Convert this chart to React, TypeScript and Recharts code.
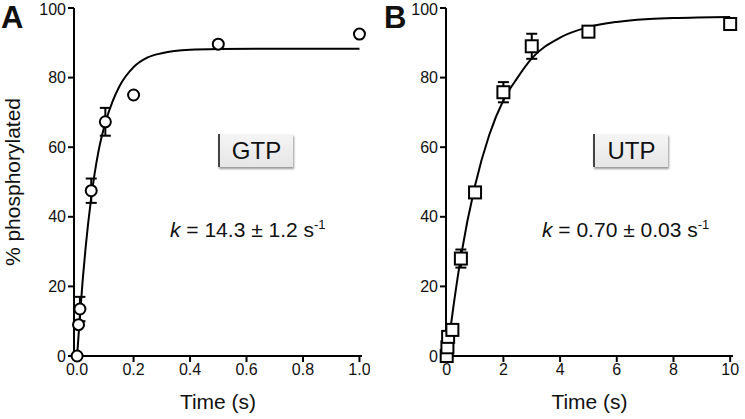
import { ComposedChart, Line, Scatter, ErrorBar, XAxis, YAxis } from "recharts";

// Panel A (GTP): measured points
const gtpTime = [0, 0.005, 0.01, 0.05, 0.1, 0.2, 0.5, 1.0];
const gtpPct = [0, 9, 13.5, 47.5, 67.3, 75, 89.6, 92.5];
// points carrying error bars
const gtpErrTime = [0.01, 0.05, 0.1];
const gtpErrPct = [13.5, 47.5, 67.3];
const gtpErrSize = [3.5, 3.5, 4];
// fitted curve
const gtpFitTime = [0, 0.01, 0.02, 0.03, 0.05, 0.075, 0.1, 0.125, 0.15, 0.2, 0.25, 0.3, 0.4, 0.5, 0.7, 1.0];
const gtpFitPct = [0, 11.5, 22, 31, 45.5, 58.5, 67, 73, 77.5, 83, 85.8, 87, 88, 88.2, 88.3, 88.3];

// Panel B (UTP)
const utpTime = [0, 0.025, 0.05, 0.2, 0.5, 1, 2, 3, 5, 10];
const utpPct = [0, 2.5, 5.5, 7.5, 28, 47, 75.8, 89, 93.2, 95.4];
const utpErrTime = [0.5, 2, 3];
const utpErrPct = [28, 75.8, 89];
const utpErrSize = [2.6, 2.9, 3.6];
const utpFitTime = [0, 0.25, 0.5, 1, 1.5, 2, 2.5, 3, 4, 5, 6, 7, 8, 10];
const utpFitPct = [0, 15, 28.5, 49, 63.5, 73.5, 80, 85.5, 91.5, 94.5, 96, 96.8, 97.1, 97.4];

const yTicks = [0, 20, 40, 60, 80, 100];
const gtpTicks = [0, 0.2, 0.4, 0.6, 0.8, 1.0];
const utpTicks = [0, 2, 4, 6, 8, 10];

const FONT = "'Liberation Sans', Arial, sans-serif";

const zip = (t: number[], v: number[], e?: number[]) =>
  t.map((x, i) => ({ t: x, v: v[i], e: e ? e[i] : 0 }));

const Circle = (p: any) => (
  <circle cx={p.cx} cy={p.cy} r={5.5} fill="#fff" stroke="#000" strokeWidth={2} />
);
const Square = (p: any) => (
  <rect x={p.cx - 6} y={p.cy - 6} width={12} height={12} fill="#fff" stroke="#000" strokeWidth={2} />
);
const Nothing = () => <g />;

const tickStyle = { fill: "#111", fontSize: 16, fontFamily: FONT };

function Panel({
  width,
  domain,
  ticks,
  fmt,
  points,
  errs,
  fit,
  marker,
  yLabel,
}: {
  width: number;
  domain: [number, number];
  ticks: number[];
  fmt: (v: number) => string;
  points: any[];
  errs: any[];
  fit: any[];
  marker: (p: any) => any;
  yLabel?: string;
}) {
  return (
    <ComposedChart
      width={width}
      height={419}
      margin={{ top: 8, right: width === 370 ? 8 : 12, left: 0, bottom: 0 }}
      style={{ overflow: "visible" }}
    >
      <XAxis
        type="number"
        dataKey="t"
        domain={domain}
        ticks={ticks}
        tickFormatter={fmt}
        height={63}
        stroke="#000"
        strokeWidth={2}
        tickSize={6}
        tickMargin={2}
        tick={tickStyle}
        label={{ value: "Time (s)", position: "insideBottom", offset: 10, fill: "#111", fontSize: 21, fontFamily: FONT }}
      />
      <YAxis
        type="number"
        dataKey="v"
        domain={[0, 100]}
        ticks={yTicks}
        width={74}
        stroke="#000"
        strokeWidth={2}
        tickSize={6}
        tickMargin={2}
        tick={tickStyle}
        label={
          yLabel
            ? { value: yLabel, angle: -90, position: "insideLeft", offset: 13, fill: "#111", fontSize: 21, fontFamily: FONT, style: { textAnchor: "middle" } }
            : undefined
        }
      />
      <Line data={fit} dataKey="v" type="monotone" dot={false} stroke="#000" strokeWidth={2} isAnimationActive={false} />
      <Scatter data={errs} dataKey="v" shape={Nothing} isAnimationActive={false}>
        <ErrorBar dataKey="e" direction="y" width={5.5} stroke="#000" strokeWidth={2} isAnimationActive={false} />
      </Scatter>
      <Scatter data={points} dataKey="v" shape={marker} isAnimationActive={false} />
    </ComposedChart>
  );
}

const boxStyle: any = {
  position: "absolute",
  width: 73,
  height: 33,
  background: "linear-gradient(#f5f5f5, #e6e6e6)",
  borderLeft: "2px solid #444",
  boxShadow: "1px 2px 2px #999",
  fontSize: 24,
  lineHeight: "33px",
  textAlign: "center",
  color: "#111",
};

const kStyle: any = {
  position: "absolute",
  fontSize: 21,
  color: "#111",
  whiteSpace: "nowrap",
  lineHeight: "24px",
};

const panelLetter: any = {
  position: "absolute",
  top: 0,
  fontSize: 31,
  fontWeight: "bold",
  color: "#111",
};

export default function App() {
  return (
    <div style={{ position: "absolute", left: 0, top: 0, width: 745, height: 419, background: "#fff", fontFamily: FONT }}>
      <div style={{ position: "absolute", left: 0, top: 0 }}>
        <Panel
          width={370}
          domain={[-0.011, 1.009]}
          ticks={gtpTicks}
          fmt={(v) => v.toFixed(1)}
          points={zip(gtpTime, gtpPct)}
          errs={zip(gtpErrTime, gtpErrPct, gtpErrSize)}
          fit={zip(gtpFitTime, gtpFitPct)}
          marker={Circle}
          yLabel="% phosphorylated"
        />
      </div>
      <div style={{ position: "absolute", left: 372, top: 0 }}>
        <Panel
          width={373}
          domain={[-0.025, 10.1]}
          ticks={utpTicks}
          fmt={(v) => String(v)}
          points={zip(utpTime, utpPct)}
          errs={zip(utpErrTime, utpErrPct, utpErrSize)}
          fit={zip(utpFitTime, utpFitPct)}
          marker={Square}
        />
      </div>
      <div style={{ ...panelLetter, left: 1 }}>A</div>
      <div style={{ ...panelLetter, left: 384 }}>B</div>
      <div style={{ ...boxStyle, left: 218, top: 134 }}>GTP</div>
      <div style={{ ...boxStyle, left: 593, top: 134 }}>UTP</div>
      <div style={{ ...kStyle, left: 170, top: 218 }}>
        <i>k</i> = 14.3 ± 1.2 s<sup style={{ fontSize: 13, lineHeight: 0 }}>-1</sup>
      </div>
      <div style={{ ...kStyle, left: 542, top: 218 }}>
        <i>k</i> = 0.70 ± 0.03 s<sup style={{ fontSize: 13, lineHeight: 0 }}>-1</sup>
      </div>
    </div>
  );
}
